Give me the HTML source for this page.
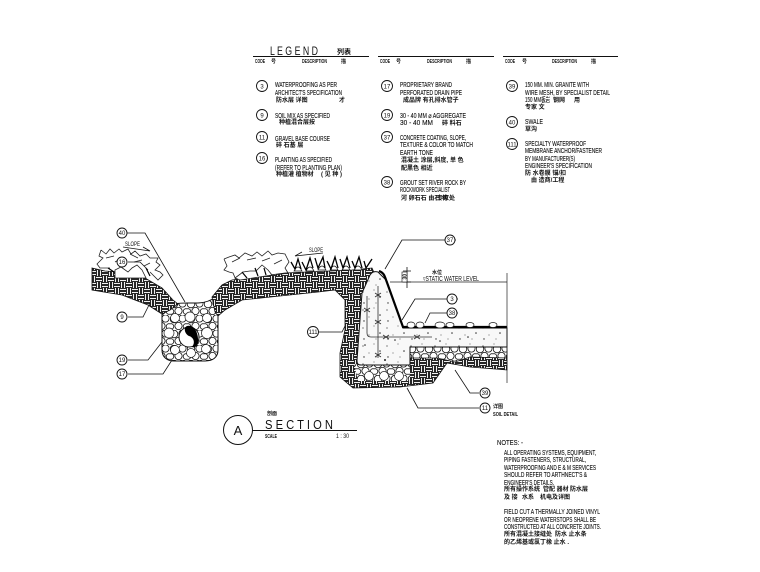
<!DOCTYPE html>
<html><head><meta charset="utf-8"><style>
html,body{margin:0;padding:0;background:#fff}
svg{display:block}
text{font-family:"Liberation Sans","Noto Sans CJK SC",sans-serif;fill:#111}
.t{font-size:7px;stroke:#111;stroke-width:.12}
.c{font-size:6px;font-weight:700}
.h{font-size:5px;font-weight:700}
.n{font-size:6px;text-anchor:middle}
.l{fill:#fff;stroke:#111;stroke-width:.9}
.w{fill:none;stroke:#222;stroke-width:.8}
</style></head><body>
<svg width="760" height="572" viewBox="0 0 760 572" xmlns="http://www.w3.org/2000/svg">
<defs>
<pattern id="brick" width="12" height="12" patternUnits="userSpaceOnUse">
<rect width="12" height="12" fill="#262626"/>
<path d="M0 1.5H6M0 4.5H6M7.5 0V6M10.5 0V6M1.5 6V12M4.5 6V12M6 7.5H12M6 10.5H12" stroke="#f0f0f0" stroke-width="1" shape-rendering="crispEdges"/>
</pattern>
<pattern id="grav" width="17" height="15" patternUnits="userSpaceOnUse">
<rect width="17" height="15" fill="#fff"/>
<g fill="#fff" stroke="#111" stroke-width=".8"><circle cx="4" cy="4" r="3.8"/><circle cx="12.5" cy="3.5" r="3.6"/><circle cx="8.5" cy="11" r="3.6"/><circle cx="1" cy="11.5" r="2.8"/><circle cx="16" cy="11.5" r="2.8"/></g>
</pattern>
<pattern id="conc" width="24" height="18" patternUnits="userSpaceOnUse">
<rect width="24" height="18" fill="#f8f8f8"/>
<g fill="#333"><circle cx="3" cy="4" r=".6"/><circle cx="14" cy="2" r=".5"/><circle cx="20" cy="9" r=".8"/><circle cx="9" cy="11" r=".5"/><circle cx="4" cy="15" r=".7"/><circle cx="16" cy="15" r=".5"/></g>
</pattern>
</defs>

<!-- LEGEND -->
<text x="270" y="55" font-size="12" textLength="48" lengthAdjust="spacingAndGlyphs" fill="#333">L E G E N D</text>
<text x="337" y="54" font-size="7" font-weight="700">列表</text>
<path d="M253 56.5H369M378 56.5H494M503 56.5H618" stroke="#111" stroke-width="1"/>
<text x="255" y="63" class="h" textLength="10" lengthAdjust="spacingAndGlyphs">CODE</text><text x="271" y="63" class="h">号</text><text x="302" y="63" class="h" textLength="25" lengthAdjust="spacingAndGlyphs">DESCRIPTION</text><text x="341" y="63" class="h">描</text>
<text x="380" y="63" class="h" textLength="10" lengthAdjust="spacingAndGlyphs">CODE</text><text x="396" y="63" class="h">号</text><text x="427" y="63" class="h" textLength="25" lengthAdjust="spacingAndGlyphs">DESCRIPTION</text><text x="466" y="63" class="h">描</text>
<text x="505" y="63" class="h" textLength="10" lengthAdjust="spacingAndGlyphs">CODE</text><text x="522" y="63" class="h">号</text><text x="552" y="63" class="h" textLength="25" lengthAdjust="spacingAndGlyphs">DESCRIPTION</text><text x="591" y="63" class="h">描</text>

<g>
<circle class="l" cx="262" cy="86" r="5.5"/><text class="n" x="262" y="88.5">3</text>
<text class="t" x="275" y="87" textLength="62" lengthAdjust="spacingAndGlyphs">WATERPROOFING AS PER</text>
<text class="t" x="275" y="95" textLength="67" lengthAdjust="spacingAndGlyphs">ARCHITECT'S SPECIFICATION</text>
<text class="c" x="276" y="102">防水层 详图</text><text class="c" x="339" y="102">才</text>

<circle class="l" cx="262" cy="115" r="5.5"/><text class="n" x="262" y="117.5">9</text>
<text class="t" x="275" y="118" textLength="55" lengthAdjust="spacingAndGlyphs">SOIL MIX AS SPECIFIED</text>
<text class="c" x="279" y="124">种植混合层按</text>

<circle class="l" cx="262" cy="137" r="5.5"/><text class="n" x="262" y="139.5">11</text>
<text class="t" x="275" y="141" textLength="55" lengthAdjust="spacingAndGlyphs">GRAVEL BASE COURSE</text>
<text class="c" x="276" y="147">碎 石基 层</text>

<circle class="l" cx="262" cy="158" r="5.5"/><text class="n" x="262" y="160.5">16</text>
<text class="t" x="275" y="162" textLength="57" lengthAdjust="spacingAndGlyphs">PLANTING AS SPECIFIED</text>
<text class="t" x="275" y="170" textLength="67" lengthAdjust="spacingAndGlyphs">(REFER TO PLANTING PLAN)</text>
<text class="c" x="276" y="176">种植灌 植物材</text><text class="c" x="321" y="176">( 见 种 )</text>

<circle class="l" cx="387" cy="86" r="5.5"/><text class="n" x="387" y="88.5">17</text>
<text class="t" x="400" y="87" textLength="52" lengthAdjust="spacingAndGlyphs">PROPRIETARY BRAND</text>
<text class="t" x="400" y="95" textLength="62" lengthAdjust="spacingAndGlyphs">PERFORATED DRAIN PIPE</text>
<text class="c" x="403" y="102">成品牌 有孔排水管子</text>

<circle class="l" cx="387" cy="115" r="5.5"/><text class="n" x="387" y="117.5">19</text>
<text class="t" x="400" y="118" textLength="66" lengthAdjust="spacingAndGlyphs">30 - 40 MM ⌀ AGGREGATE</text>
<text class="t" x="400" y="125" textLength="33" lengthAdjust="spacingAndGlyphs">30 - 40 MM</text><text class="c" x="442" y="125">碎 料石</text>

<circle class="l" cx="387" cy="137" r="5.5"/><text class="n" x="387" y="139.5">37</text>
<text class="t" x="400" y="140" textLength="66" lengthAdjust="spacingAndGlyphs">CONCRETE COATING, SLOPE,</text>
<text class="t" x="400" y="147" textLength="73" lengthAdjust="spacingAndGlyphs">TEXTURE &amp; COLOR TO MATCH</text>
<text class="t" x="400" y="155" textLength="33" lengthAdjust="spacingAndGlyphs">EARTH TONE</text>
<text class="c" x="401" y="162">混凝土 涂层,斜度,</text><text class="c" x="450" y="162">单 色</text>
<text class="c" x="401" y="170">配黑色 相近</text>

<circle class="l" cx="387" cy="182" r="5.5"/><text class="n" x="387" y="184.5">38</text>
<text class="t" x="400" y="185" textLength="66" lengthAdjust="spacingAndGlyphs">GROUT SET RIVER ROCK BY</text>
<text class="t" x="400" y="192" textLength="50" lengthAdjust="spacingAndGlyphs">ROCKWORK SPECIALIST</text>
<text class="c" x="401" y="200">河 卵石石 由石 构</text><text class="c" x="437" y="200">  专家处</text>

<circle class="l" cx="512" cy="86" r="5.5"/><text class="n" x="512" y="88.5">39</text>
<text class="t" x="525" y="87" textLength="64" lengthAdjust="spacingAndGlyphs">150 MM. MIN. GRANITE WITH</text>
<text class="t" x="525" y="95" textLength="85" lengthAdjust="spacingAndGlyphs">WIRE MESH, BY SPECIALIST DETAIL</text>
<text class="t" x="525" y="102" textLength="25" lengthAdjust="spacingAndGlyphs">150 MM板岩</text><text class="c" x="553" y="102">钢网</text><text class="c" x="574" y="102">用</text>
<text class="c" x="525" y="109">专家 文</text>

<circle class="l" cx="512" cy="122" r="5.5"/><text class="n" x="512" y="124.5">40</text>
<text class="t" x="525" y="124" textLength="18" lengthAdjust="spacingAndGlyphs">SWALE</text>
<text class="c" x="525" y="131">草沟</text>

<circle class="l" cx="512" cy="144" r="5.5"/><text class="n" x="512" y="146.5">111</text>
<text class="t" x="525" y="146" textLength="61" lengthAdjust="spacingAndGlyphs">SPECIALTY WATERPROOF</text>
<text class="t" x="525" y="153" textLength="77" lengthAdjust="spacingAndGlyphs">MEMBRANE ANCHOR/FASTENER</text>
<text class="t" x="525" y="161" textLength="50" lengthAdjust="spacingAndGlyphs">BY MANUFACTURER(S)</text>
<text class="t" x="525" y="168" textLength="67" lengthAdjust="spacingAndGlyphs">ENGINEER'S SPECIFICATION</text>
<text class="c" x="525" y="175">防 水卷膜 锚/扣</text>
<text class="c" x="531" y="182">由 造商/工程</text>
</g>

<!-- gravel basin -->
<path d="M162 306C170 304 178 303 187 303H198C206 303 212 300 218 296V350C218 358 212 361 205 361H174C167 361 162 357 162 350Z" fill="url(#grav)" stroke="#111" stroke-width="1"/>
<g fill="#fff" stroke="#222" stroke-width=".7">
<circle cx="190" cy="317" r="5"/><circle cx="175" cy="318" r="4.5"/><circle cx="207" cy="318" r="4.5"/><circle cx="169" cy="333" r="5"/><circle cx="207" cy="333" r="5.5"/><circle cx="206" cy="349" r="4.5"/><circle cx="175" cy="350" r="4.5"/><circle cx="191" cy="353" r="4.5"/>
</g>
<circle cx="189" cy="337" r="10" fill="#fff" stroke="#111"/>
<path d="M187 326C194 324 199 333 198 343C197 347 194 348 192 347C196 342 193 337 189 336C185 334 183 328 187 326Z" fill="#000"/>

<!-- soil -->
<path d="M92 268L105 271L118 272L145 278L162 288L173 300L178 304L170 310L162 314L148 305L122 295L92 290Z" fill="url(#brick)" stroke="#111" stroke-width=".8"/>
<path d="M212 297L222 285L232 280L285 273L352 270L372 268L400 330L507 350V370L470 367L447 363L433 383L400 387L353 388L340 377L340 353L345 330L345 300L335 290L318 292L242 300L225 310L218 316L215 312Z" fill="url(#brick)" stroke="#111" stroke-width=".8"/>

<!-- gravel under wall -->
<path d="M354 364H410V381H358Z" fill="url(#grav)"/>
<g fill="#fff" stroke="#222" stroke-width=".7"><circle cx="369" cy="376" r="4.5"/><circle cx="384" cy="376" r="4.5"/><circle cx="399" cy="376" r="4.5"/></g>
<path d="M410 347H507V358L470 357L455 362L437 358L410 358Z" fill="url(#grav)" stroke="#111" stroke-width=".7"/>

<!-- concrete -->
<path d="M378 272C374 271 372 272 370 275L362 293L357 360C357 364 358 365 361 365H410V347H507V328H403L387 281Z" fill="url(#conc)" stroke="#111" stroke-width="1"/>
<path d="M379 271C382 272 384 274 385 277L403 327H507" fill="none" stroke="#000" stroke-width="2.2"/>
<g fill="none" stroke="#333" stroke-width=".8">
<path d="M378 286V358M367 296V333C367 336 369 337 371 337H432"/>
<path d="M375 293L381 297M381 293L375 297M375 320L381 324M381 320L375 324M375 353L381 357M381 353L375 357M364 308L370 312M370 308L364 312M383 335L389 339M389 335L383 339M414 335L420 339M420 335L414 339"/>
</g>
<g fill="#222"><circle cx="395" cy="340" r=".8"/><circle cx="385" cy="360" r="1"/><circle cx="365" cy="345" r=".8"/><circle cx="440" cy="341" r=".8"/><circle cx="468" cy="337" r=".8"/></g>
<path d="M507 273V383M390 282H507" fill="none" stroke="#222" stroke-width=".7"/>
<g fill="#fff" stroke="#111" stroke-width=".7">
<ellipse cx="411" cy="325" rx="4" ry="3"/><ellipse cx="420" cy="325" rx="4" ry="3"/><ellipse cx="440" cy="325" rx="5" ry="3"/><ellipse cx="450" cy="325" rx="4" ry="2.5"/><ellipse cx="470" cy="325" rx="4" ry="2.5"/><ellipse cx="493" cy="325" rx="4" ry="2.5"/></g>

<!-- plants -->
<path class="w" d="M101 250L106 254L110 249L114 253L119 249L122 252L128 249L131 254L135 251L140 256L146 254L150 258L158 258L156 262L160 265L155 270L160 272L163 275L158 280L150 272M101 250L99 256L103 258L97 264L100 268L110 268M106 258L114 256M115 262L122 258M130 254L138 258M134 262L142 260M144 266L150 263"/>
<path class="w" d="M224 259L229 257L235 255L239 258L245 253L252 256L257 252L262 256L268 251L272 255L278 253L285 254L289 262L285 268L288 273L276 275M224 259L227 266L224 270L229 272L233 273L236 280M232 262L240 258M247 260L256 258M262 261L270 258M274 264L282 260"/>
<g fill="#fff" stroke="#222" stroke-width=".8"><path d="M115 270L121 267L128 272L132 268L137 265L142 270L146 278H115Z"/><path d="M235 278L243 272L250 271L256 271L262 265L268 270L272 275L240 280Z"/></g>
<path d="M108 268L114 272M146 268L150 276M242 272L247 278M255 268L258 276M264 268L266 275" fill="none" stroke="#000" stroke-width="1.2"/>
<g fill="#fff" stroke="#111" stroke-width=".7">
<path d="M294 271Q298 263 302 271ZM306 271Q310 263 314 271ZM318 270Q322 262 326 270ZM330 270Q334 262 338 270ZM342 270Q346 262 350 270ZM354 270Q358 262 362 270Z"/>
</g>
<path d="M291 262L295 269L298 259L301 269M302 262L306 270L310 258L313 268M315 258L318 268L323 257L325 268M327 261L331 269L335 257L338 268M340 259L343 268L347 257L350 268M352 261L355 268L359 257L362 268M364 261L366 268L372 259" fill="none" stroke="#000" stroke-width="1.3"/>
<text x="125" y="246" font-size="6" textLength="15" lengthAdjust="spacingAndGlyphs">SLOPE</text>
<path d="M123 247L150 251M150 251L143 247" fill="none" stroke="#111" stroke-width=".8"/>
<text x="309" y="252" font-size="6" textLength="14" lengthAdjust="spacingAndGlyphs">SLOPE</text>
<path d="M295 256L323 253M295 256L302 252" fill="none" stroke="#111" stroke-width=".8"/>

<!-- leaders -->
<g fill="none" stroke="#111" stroke-width=".8">
<path d="M127 233H145L185 302M128 262H140L148 270M128 317H143L150 303M128 360H148L162 342M128 374H163L172 360M319 332H342L345 326M456 240H402L385 269M458 299H415L402 320M458 313H430L425 323M479 393H470L455 370M479 408H418L407 388"/>
<path d="M407 267V288M403 271H411M403 282H411"/>
</g>
<rect x="402" y="272" width="5" height="10" fill="#fff" stroke="#111" stroke-width=".6"/>
<text transform="translate(406.5,279.5) rotate(-90)" font-size="5" font-weight="700">30</text>
<circle class="l" cx="122" cy="233" r="5"/><text class="n" x="122" y="235">40</text>
<circle class="l" cx="122" cy="262" r="5"/><text class="n" x="122" y="264">16</text>
<circle class="l" cx="122" cy="317" r="5"/><text class="n" x="122" y="319">9</text>
<circle class="l" cx="122" cy="360" r="5"/><text class="n" x="122" y="362">19</text>
<circle class="l" cx="122" cy="374" r="5"/><text class="n" x="122" y="376">17</text>
<circle class="l" cx="313" cy="332" r="5.5"/><text class="n" x="313" y="334">111</text>
<circle class="l" cx="450" cy="240" r="5"/><text class="n" x="450" y="242">37</text>
<circle class="l" cx="452" cy="299" r="5"/><text class="n" x="452" y="301">3</text>
<circle class="l" cx="452" cy="313" r="5"/><text class="n" x="452" y="315">38</text>
<circle class="l" cx="485" cy="393" r="5"/><text class="n" x="485" y="395">39</text>
<circle class="l" cx="485" cy="408" r="5"/><text class="n" x="485" y="410">11</text>
<text x="432" y="274" class="h">水位</text>
<text x="423" y="281" font-size="7" textLength="56" lengthAdjust="spacingAndGlyphs">▿STATIC WATER LEVEL</text>
<text x="493" y="408" class="h">详图</text>
<text x="493" y="416" font-size="5" font-weight="700" textLength="25" lengthAdjust="spacingAndGlyphs">SOIL DETAIL</text>

<!-- section title -->
<circle cx="238" cy="430" r="14.5" fill="#fff" stroke="#111"/>
<text x="238" y="435" font-size="13" text-anchor="middle" fill="#333">A</text>
<path d="M252 430.5H357" stroke="#111" stroke-width="1"/>
<text x="265" y="429" font-size="13" textLength="68" lengthAdjust="spacingAndGlyphs" fill="#333">S E C T I O N</text>
<text x="267" y="415" class="h">剖面</text>
<text x="265" y="438" font-size="5" font-weight="700" textLength="12" lengthAdjust="spacingAndGlyphs">SCALE</text>
<text x="336" y="438" font-size="6" textLength="13" lengthAdjust="spacingAndGlyphs">1 : 30</text>

<!-- notes -->
<text class="t" x="497" y="445" textLength="26" lengthAdjust="spacingAndGlyphs">NOTES:  -</text>
<text class="t" x="504" y="455" textLength="92" lengthAdjust="spacingAndGlyphs">ALL OPERATING SYSTEMS, EQUIPMENT,</text>
<text class="t" x="504" y="462" textLength="82" lengthAdjust="spacingAndGlyphs">PIPING FASTENERS, STRUCTURAL,</text>
<text class="t" x="504" y="470" textLength="92" lengthAdjust="spacingAndGlyphs">WATERPROOFING AND E &amp; M SERVICES</text>
<text class="t" x="504" y="477" textLength="83" lengthAdjust="spacingAndGlyphs">SHOULD REFER TO ARTHNECT'S &amp;</text>
<text class="t" x="504" y="485" textLength="50" lengthAdjust="spacingAndGlyphs">ENGINEER'S DETAILS.</text>
<text class="c" x="504" y="491">所有操作系统</text><text class="c" x="543" y="491">管配 器材</text><text class="c" x="570" y="491">防水层</text>
<text class="c" x="504" y="499">及 接</text><text class="c" x="522" y="499">水系</text><text class="c" x="540" y="499">机电</text><text class="c" x="552" y="499">及详图</text>
<text class="t" x="504" y="514" textLength="96" lengthAdjust="spacingAndGlyphs">FIELD CUT A THERMALLY JOINED VINYL</text>
<text class="t" x="504" y="522" textLength="92" lengthAdjust="spacingAndGlyphs">OR NEOPRENE WATERSTOPS SHALL BE</text>
<text class="t" x="504" y="529" textLength="97" lengthAdjust="spacingAndGlyphs">CONSTRUCTED AT ALL CONCRETE JOINTS.</text>
<text class="c" x="504" y="536">所有混凝土接</text><text class="c" x="540" y="536">缝处</text><text class="c" x="555" y="536">防水 止水条</text>
<text class="c" x="504" y="544">的乙烯基或氯丁橡 止水 .</text>
</svg>
</body></html>
